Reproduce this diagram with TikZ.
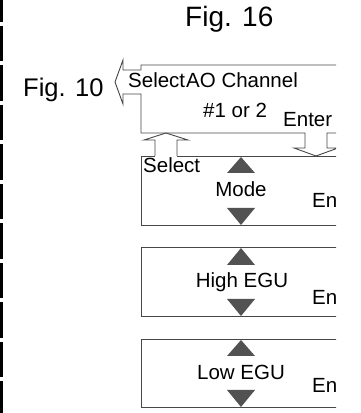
\documentclass[tikz,border=0pt]{standalone}
\usepackage{fontspec}
\setmainfont{Liberation Sans}
\begin{document}
\begin{tikzpicture}[x=1pt,y=1pt,
  ln/.style={draw=black!72,line width=0.9pt,line join=miter},
  tri/.style={fill=black!68,draw=none},
  txt/.style={inner sep=0pt,font=\fontsize{20.5}{22}\selectfont},
  fig/.style={inner sep=0pt},
  dashline/.style={line width=3pt,dash pattern=on 35.5pt off 4pt,dash phase=13.5pt}]
\useasboundingbox (0,0) rectangle (360,413);
% left dashed rule
\coordinate (dtop) at (1.5,413);
\coordinate (dbot) at (1.5,0);
\draw[dashline] (dtop) -- (dbot);
% titles
\node[fig,anchor=base west,font=\fontsize{28}{30}\selectfont] (fig16) at (185,386) {Fig. 16};
\node[fig,anchor=base west,font=\fontsize{25.5}{27}\selectfont] (fig10) at (23,316) {Fig. 10};
\begin{scope}
\clip (0,0) rectangle (336,413);
% top box with left arrow and down arrow
\draw[ln] (345,348) -- (141,348) -- (141,343) -- (123,343) -- (123,353) -- (115,331)
  -- (123,309) -- (123,319) -- (141,319) -- (141,280) -- (305,280) -- (305,265)
  -- (294,265) -- (316,257) -- (338,265) -- (327,265) -- (327,280) -- (345,280);
% up arrow
\draw[ln] (155,257) -- (155,273) -- (144,273) -- (166,280) -- (188,273) -- (177,273) -- (177,257);
% Mode box
\draw[ln] (155,257) -- (141,257) -- (141,188) -- (345,188);
\draw[ln] (177,257) -- (345,257);
% High EGU box
\draw[ln] (345,166) -- (141,166) -- (141,97) -- (345,97);
% Low EGU box
\draw[ln] (345,74) -- (141,74) -- (141,6) -- (345,6);
% triangles
\fill[tri] (241,256) -- (255,240) -- (227,240) -- cycle;
\fill[tri] (241,188) -- (255,205) -- (227,205) -- cycle;
\fill[tri] (241,165) -- (255,148) -- (227,148) -- cycle;
\fill[tri] (241,97) -- (255,114) -- (227,114) -- cycle;
\fill[tri] (241,73) -- (255,57) -- (227,57) -- cycle;
\fill[tri] (241,6) -- (255,23) -- (227,23) -- cycle;
\end{scope}
% texts
\node[txt,anchor=base west] (sel1) at (128,325) {Select};
\node[txt,anchor=base west] (ao) at (186,325) {AO Channel};
\node[txt,anchor=base west] (num) at (203,295) {\#1 or 2};
\node[txt,anchor=base west] (ent1) at (283,286) {Enter};
\node[txt,anchor=base west] (sel2) at (143,240) {Select};
\node[txt,anchor=base] (mode) at (241,216) {Mode};
\node[txt,anchor=base west] (ent2) at (312,205) {En};
\node[txt,anchor=base] (high) at (242,125) {High EGU};
\node[txt,anchor=base west] (ent3) at (312,108) {En};
\node[txt,anchor=base] (low) at (241,33) {Low EGU};
\node[txt,anchor=base west] (ent4) at (312,20) {En};
\end{tikzpicture}
\end{document}
